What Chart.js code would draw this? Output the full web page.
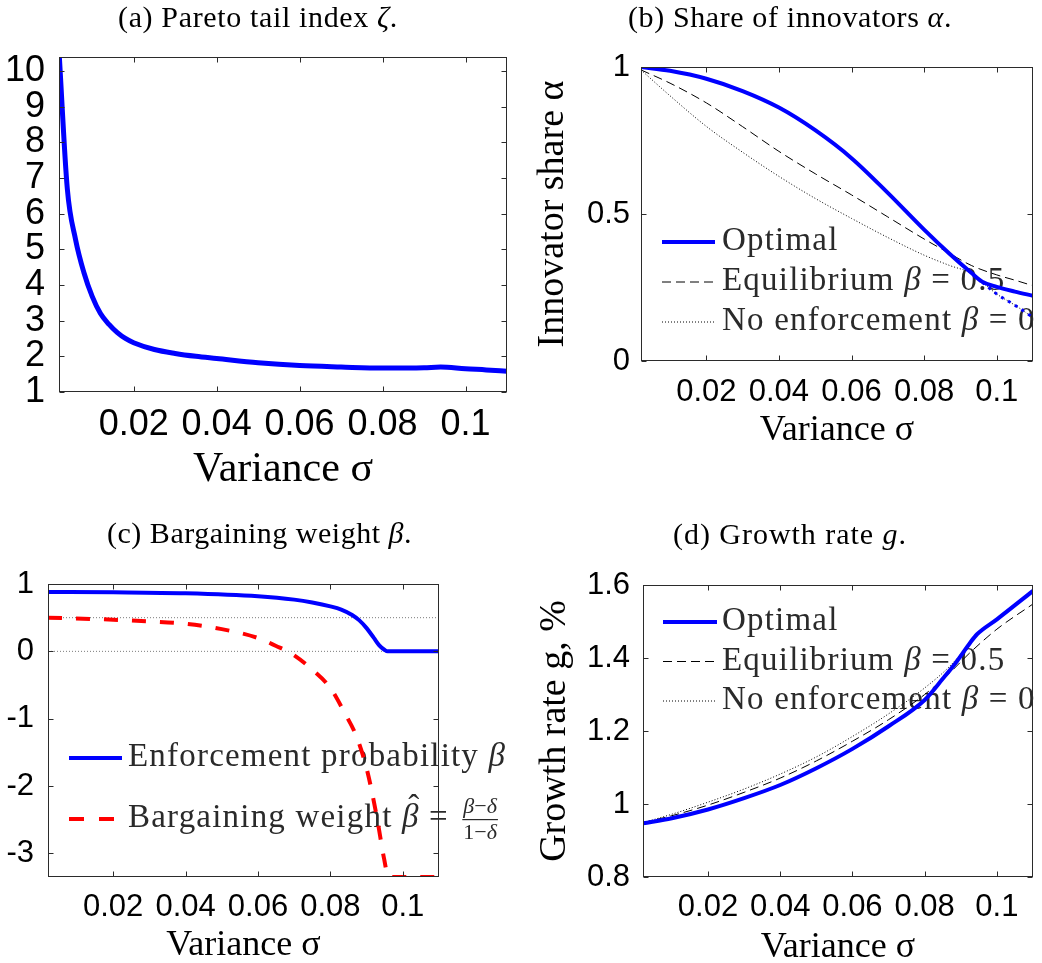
<!DOCTYPE html>
<html><head><meta charset="utf-8">
<script src="https://cdn.jsdelivr.net/npm/chart.js@4.4.0/dist/chart.umd.min.js"></script>
<style>
html,body{margin:0;padding:0;background:#fff;overflow:hidden;width:1042px;height:963px;position:relative}
.p{position:absolute}
canvas{display:block}
</style></head><body>
<div class="p" style="left:0;top:0"><canvas id="ca" width="521" height="500"></canvas></div>
<div class="p" style="left:521px;top:0"><canvas id="cb" width="521" height="480"></canvas></div>
<div class="p" style="left:0;top:480px"><canvas id="cc" width="521" height="490"></canvas></div>
<div class="p" style="left:521px;top:480px"><canvas id="cd" width="521" height="490"></canvas></div>
<script>
// ---------------- data ----------------
const xTickValues = [0.02, 0.04, 0.06, 0.08, 0.1];
const xTickLabels = ['0.02', '0.04', '0.06', '0.08', '0.1'];

// (a) Pareto tail index
const sigmaA = [0.002, 0.004, 0.006, 0.008, 0.010, 0.012, 0.014, 0.016, 0.018, 0.02, 0.025, 0.03, 0.035, 0.04, 0.05, 0.06, 0.07, 0.08, 0.09, 0.094, 0.1, 0.105, 0.11];
const zetaA  = [10.56, 6.7, 5.27, 4.35, 3.68, 3.2, 2.9, 2.67, 2.5, 2.38, 2.19, 2.08, 2.0, 1.94, 1.82, 1.74, 1.7, 1.67, 1.68, 1.7, 1.65, 1.62, 1.58];
const yTicksA  = [1, 2, 3, 4, 5, 6, 7, 8, 9, 10];
const yLabelsA = ['1', '2', '3', '4', '5', '6', '7', '8', '9', '10'];

// (b) Share of innovators
const sigmaBOpt   = [0.002, 0.01, 0.02, 0.03, 0.04, 0.05, 0.06, 0.07, 0.08, 0.087, 0.093, 0.096, 0.1, 0.105, 0.11];
const alphaOpt    = [1.0, 0.987, 0.96, 0.918, 0.862, 0.785, 0.69, 0.572, 0.447, 0.365, 0.3, 0.27, 0.252, 0.236, 0.222];
const sigmaBEq    = [0.002, 0.01, 0.02, 0.03, 0.04, 0.05, 0.06, 0.07, 0.08, 0.087, 0.093, 0.1, 0.105, 0.11];
const alphaEq     = [0.99, 0.945, 0.878, 0.797, 0.713, 0.637, 0.565, 0.49, 0.415, 0.366, 0.325, 0.293, 0.275, 0.256];
const sigmaBNoEnf = [0.002, 0.01, 0.02, 0.03, 0.04, 0.05, 0.06, 0.07, 0.08, 0.087, 0.093, 0.096, 0.1, 0.105, 0.11];
const alphaNoEnf  = [0.99, 0.902, 0.798, 0.71, 0.628, 0.553, 0.485, 0.42, 0.36, 0.325, 0.298, 0.268, 0.228, 0.19, 0.148];
const sigmaBDot   = [0.096, 0.1, 0.105, 0.11];
const alphaOptDot = [0.268, 0.228, 0.19, 0.148];
const yTicksB  = [0, 0.5, 1];
const yLabelsB = ['0', '0.5', '1'];

// (c) Bargaining weight
const sigmaCEnf  = [0.002, 0.02, 0.04, 0.06, 0.07, 0.075, 0.08, 0.083, 0.086, 0.088, 0.09, 0.092, 0.0935, 0.095, 0.0958, 0.1, 0.11];
const betaEnf    = [0.883, 0.877, 0.862, 0.818, 0.768, 0.726, 0.668, 0.62, 0.54, 0.46, 0.345, 0.2, 0.09, 0.02, 0, 0, 0];
const sigmaCBarg = [0.002, 0.02, 0.03, 0.04, 0.05, 0.06, 0.065, 0.069, 0.0745, 0.08, 0.0837, 0.0874, 0.0902, 0.0929, 0.0948, 0.0961, 0.1, 0.11];
const betaHat    = [0.5, 0.47, 0.445, 0.41, 0.33, 0.198, 0.08, -0.025, -0.248, -0.545, -0.89, -1.29, -1.78, -2.48, -3.07, -3.35, -3.35, -3.35];
const sigmaCRef  = [0.002, 0.11];
const refHalf    = [0.5, 0.5];
const refZero    = [0, 0];
const yTicksC  = [-3, -2, -1, 0, 1];
const yLabelsC = ['-3', '-2', '-1', '0', '1'];

// (d) Growth rate
const sigmaDOpt   = [0.002, 0.01, 0.02, 0.03, 0.04, 0.05, 0.06, 0.07, 0.08, 0.085, 0.089, 0.0926, 0.0945, 0.1, 0.11];
const gOpt        = [0.947, 0.961, 0.985, 1.016, 1.052, 1.098, 1.151, 1.213, 1.285, 1.343, 1.392, 1.442, 1.465, 1.506, 1.584];
const sigmaDEq    = [0.002, 0.01, 0.02, 0.03, 0.04, 0.05, 0.06, 0.07, 0.08, 0.087, 0.0926, 0.1, 0.11];
const gEq         = [0.949, 0.968, 0.997, 1.032, 1.071, 1.118, 1.172, 1.231, 1.3, 1.36, 1.415, 1.479, 1.548];
const sigmaDNoEnf = [0.002, 0.01, 0.02, 0.03, 0.04, 0.05, 0.06, 0.07, 0.08, 0.087, 0.0926, 0.0945, 0.1, 0.11];
const gNoEnf      = [0.949, 0.972, 1.005, 1.041, 1.082, 1.129, 1.185, 1.247, 1.318, 1.378, 1.442, 1.465, 1.506, 1.584];
const yTicksD  = [0.8, 1, 1.2, 1.4, 1.6];
const yLabelsD = ['0.8', '1', '1.2', '1.4', '1.6'];

// ---------------- helpers ----------------
const SANS = '"Liberation Sans", Arial, sans-serif';
const SERIF = '"Liberation Serif", "Times New Roman", serif';
const TEXT_COLOR = '#2a2a2a';

const STY = {
  blueThick: {borderColor: '#0000ff', borderWidth: 5},
  blue:      {borderColor: '#0000ff', borderWidth: 4},
  blueDot:   {borderColor: '#0000ff', borderWidth: 3, borderDash: [3, 5]},
  blackDash: {borderColor: '#000000', borderWidth: 1, borderDash: [9, 5]},
  blackDot:  {borderColor: '#000000', borderWidth: 1, borderDash: [1, 2]},
  redDash:   {borderColor: '#ff0000', borderWidth: 4, borderDash: [14, 14]},
  greyDot:   {borderColor: '#7a7a7a', borderWidth: 1, borderDash: [1, 2]}
};

function pts(xs, ys) { return xs.map((x, i) => ({x: x, y: ys[i]})); }
function ds(label, xs, ys, style, extra) {
  return Object.assign({label: label, data: pts(xs, ys), pointRadius: 0, fill: false,
    cubicInterpolationMode: 'monotone', borderCapStyle: 'butt', borderJoinStyle: 'round'}, style, extra || {});
}
function fontOf(r, size) { return (r.it ? 'italic ' : '') + size + 'px ' + SERIF; }
function nChars(s) { return [...s].length; }
function runsWidth(ctx, runs, size, sp) {
  let w = 0;
  ctx.save();
  try { ctx.letterSpacing = '0px'; } catch (e) {}
  for (const r of runs) { ctx.font = fontOf(r, size); w += ctx.measureText(r.t).width + nChars(r.t) * sp; }
  ctx.restore();
  return w;
}
function drawRuns(ctx, runs, x, y, size, sp, color) {
  ctx.save();
  ctx.fillStyle = color; ctx.textBaseline = 'alphabetic'; ctx.textAlign = 'left';
  for (const r of runs) {
    ctx.font = fontOf(r, size);
    try { ctx.letterSpacing = '0px'; } catch (e) {}
    const w = ctx.measureText(r.t).width;
    try { ctx.letterSpacing = sp + 'px'; } catch (e) {}
    ctx.fillText(r.t, x, y);
    x += w + nChars(r.t) * sp;
  }
  ctx.restore();
  return x;
}
function drawSample(ctx, x0, x1, y, st) {
  ctx.save();
  ctx.strokeStyle = st.borderColor; ctx.lineWidth = st.borderWidth;
  ctx.setLineDash(st.borderDash || []);
  ctx.beginPath(); ctx.moveTo(x0, y); ctx.lineTo(x1, y); ctx.stroke();
  ctx.restore();
}

const framePlugin = {
  id: 'frame',
  afterDatasetsDraw(chart) {
    const {ctx, chartArea: a, scales} = chart;
    const xs = scales.x, ys = scales.y;
    ctx.save();
    ctx.strokeStyle = '#2b2b2b'; ctx.lineWidth = 1; ctx.setLineDash([]);
    const L = Math.round(a.left) + 0.5, R = Math.round(a.right) - 0.5, T = Math.round(a.top) + 0.5, B = Math.round(a.bottom) - 0.5;
    ctx.strokeRect(L, T, R - L, B - T);
    const tl = 5;
    ctx.beginPath();
    xs.ticks.forEach(t => {
      const p = Math.round(xs.getPixelForValue(t.value)) + 0.5;
      ctx.moveTo(p, B); ctx.lineTo(p, B - tl);
      ctx.moveTo(p, T); ctx.lineTo(p, T + tl);
    });
    ys.ticks.forEach(t => {
      const p = Math.round(ys.getPixelForValue(t.value)) + 0.5;
      ctx.moveTo(L, p); ctx.lineTo(L + tl, p);
      ctx.moveTo(R, p); ctx.lineTo(R - tl, p);
    });
    ctx.stroke();
    ctx.restore();
  }
};

function annotPlugin(P) {
  return {
    id: 'annot',
    beforeDatasetsDraw(chart) {
      const ctx = chart.ctx;
      if (P.legend) {
        const g = P.legend;
        g.items.forEach(it => {
          drawSample(ctx, g.x0, it.x1 || g.x1, it.y, it.style);
          const xe = drawRuns(ctx, it.runs, g.tx, it.base, g.size, g.sp, TEXT_COLOR);
          if (it.after) it.after(ctx, xe, it.base, g);
        });
      }
    },
    afterDraw(chart) {
      const ctx = chart.ctx;
      const t = P.title;
      const w0 = runsWidth(ctx, t.runs, t.size, 0);
      const n = t.runs.reduce((s, r) => s + nChars(r.t), 0);
      const sp = (t.target - w0) / n;
      drawRuns(ctx, t.runs, t.cx - t.target / 2, t.base, t.size, sp, '#000');
    }
  };
}

function build(id, P) {
  const W = P.W, H = P.H, a = P.area;
  const yTitle = P.yTitle ? {display: true, text: P.yTitle, color: '#000',
      font: {family: SERIF, size: P.yTitleSize}, padding: {top: P.yTitlePad, bottom: 0}} : {display: false};
  return new Chart(document.getElementById(id), {
    type: 'line',
    data: {datasets: P.datasets},
    options: {
      responsive: false, animation: false, devicePixelRatio: 1, events: [],
      layout: {padding: {left: 0, top: a.t, right: W - a.r, bottom: 0}},
      plugins: {legend: {display: false}, tooltip: {enabled: false}, title: {display: false}},
      scales: {
        x: {
          type: 'linear', min: P.xMin, max: P.xMax,
          afterBuildTicks: s => { s.ticks = xTickValues.map(v => ({value: v})); },
          afterFit: s => { s.height = H - a.b; },
          grid: {display: false, drawTicks: false}, border: {display: false},
          ticks: {color: '#000', font: {family: SANS, size: P.tickSize}, padding: P.xPad,
            autoSkip: false, maxRotation: 0, minRotation: 0, callback: (v, i) => xTickLabels[i]},
          title: {display: true, text: 'Variance σ', color: '#000',
            font: {family: SERIF, size: P.xTitleSize}, padding: {top: 0, bottom: P.xTitlePad}}
        },
        y: {
          type: 'linear', min: P.yMin, max: P.yMax,
          afterBuildTicks: s => { s.ticks = P.yTicks.map(v => ({value: v})); },
          afterFit: s => { s.width = a.l; },
          grid: {display: false, drawTicks: false}, border: {display: false},
          ticks: {color: '#000', font: {family: SANS, size: P.tickSize}, padding: P.yPad,
            autoSkip: false, callback: (v, i) => P.yLabels[i]},
          title: yTitle
        }
      }
    },
    plugins: [framePlugin, annotPlugin(P)]
  });
}

const LEG_SIZE = 33, LEG_SP = 1.2, TITLE_SIZE = 30;
const legend3 = (x0, x1, tx, y0, step) => ({
  x0: x0, x1: x1, tx: tx, size: LEG_SIZE, sp: LEG_SP,
  items: [
    {y: y0, base: y0 + 8, style: STY.blue, runs: [{t: 'Optimal'}]},
    {y: y0 + step, base: y0 + step + 8, style: STY.blackDash, runs: [{t: 'Equilibrium '}, {t: 'β', it: true}, {t: ' = 0.5'}]},
    {y: y0 + 2 * step, base: y0 + 2 * step + 8, style: STY.blackDot, runs: [{t: 'No enforcement '}, {t: 'β', it: true}, {t: ' = 0'}]}
  ]
});

// (a)
build('ca', {
  W: 521, H: 500, area: {l: 59, r: 507, t: 57, b: 392},
  xMin: 0.002, xMax: 0.11, yMin: 1, yMax: 10.39, yTicks: yTicksA, yLabels: yLabelsA,
  tickSize: 36, xPad: 11, yPad: 14, xTitleSize: 42, xTitlePad: 5,
  datasets: [ds('Pareto tail index', sigmaA, zetaA, STY.blueThick)],
  title: {runs: [{t: '(a) Pareto tail index '}, {t: 'ζ', it: true}, {t: '.'}], cx: 258, base: 27, size: TITLE_SIZE, target: 280}
});

// (b)
build('cb', {
  W: 521, H: 480, area: {l: 120, r: 512, t: 67, b: 361},
  xMin: 0.002, xMax: 0.11, yMin: 0, yMax: 1, yTicks: yTicksB, yLabels: yLabelsB,
  tickSize: 31, xPad: 13, yPad: 11, xTitleSize: 36, xTitlePad: 28,
  yTitle: 'Innovator share α', yTitleSize: 38, yTitlePad: 9,
  datasets: [
    ds('Optimal', sigmaBOpt, alphaOpt, STY.blue),
    ds('Optimal (β = 0 branch)', sigmaBDot, alphaOptDot, STY.blueDot),
    ds('Equilibrium β = 0.5', sigmaBEq, alphaEq, STY.blackDash),
    ds('No enforcement β = 0', sigmaBNoEnf, alphaNoEnf, STY.blackDot)
  ],
  legend: legend3(141, 194, 201, 242, 40),
  title: {runs: [{t: '(b) Share of innovators '}, {t: 'α', it: true}, {t: '.'}], cx: 269, base: 27, size: TITLE_SIZE, target: 324}
});

// (c)
function drawBetaHatFraction(ctx, x, base, g) {
  const size = g.size, sp = g.sp;
  let xe = drawRuns(ctx, [{t: 'β', it: true}], x, base, size, sp, TEXT_COLOR);
  ctx.save();
  ctx.fillStyle = TEXT_COLOR; ctx.font = size + 'px ' + SERIF; ctx.textAlign = 'center';
  ctx.fillText('ˆ', (x + xe) / 2 + 3, base - 9);
  ctx.restore();
  xe = drawRuns(ctx, [{t: ' = '}], xe, base, size, sp, TEXT_COLOR);
  const fs = 22;
  const num = [{t: 'β', it: true}, {t: '−'}, {t: 'δ', it: true}];
  const den = [{t: '1'}, {t: '−'}, {t: 'δ', it: true}];
  const wn = runsWidth(ctx, num, fs, 0), wd = runsWidth(ctx, den, fs, 0);
  const w = Math.max(wn, wd) + 2;
  const cx = xe + 4 + w / 2;
  drawRuns(ctx, num, cx - wn / 2, base - 14, fs, 0, TEXT_COLOR);
  drawRuns(ctx, den, cx - wd / 2, base + 12, fs, 0, TEXT_COLOR);
  ctx.save();
  ctx.fillStyle = TEXT_COLOR; ctx.fillRect(cx - w / 2, base - 8, w, 1.2);
  ctx.restore();
}
build('cc', {
  W: 521, H: 490, area: {l: 48, r: 439, t: 104, b: 397},
  xMin: 0.002, xMax: 0.11, yMin: -3.35, yMax: 1, yTicks: yTicksC, yLabels: yLabelsC,
  tickSize: 31, xPad: 12, yPad: 14, xTitleSize: 36, xTitlePad: 3,
  datasets: [
    ds('Enforcement probability β', sigmaCEnf, betaEnf, STY.blue),
    ds('Bargaining weight β̂', sigmaCBarg, betaHat, STY.redDash),
    ds('Reference 0.5', sigmaCRef, refHalf, STY.greyDot),
    ds('Reference 0', sigmaCRef, refZero, STY.greyDot)
  ],
  legend: {
    x0: 69, x1: 122, tx: 128, size: LEG_SIZE, sp: LEG_SP,
    items: [
      {y: 278, base: 286, style: STY.blue, runs: [{t: 'Enforcement probability '}, {t: 'β', it: true}]},
      {y: 339, base: 347, x1: 114, style: Object.assign({}, STY.redDash, {borderDash: [15, 15]}),
       runs: [{t: 'Bargaining weight '}], after: drawBetaHatFraction}
    ]
  },
  title: {runs: [{t: '(c) Bargaining weight '}, {t: 'β', it: true}, {t: '.'}], cx: 259.5, base: 63, size: TITLE_SIZE, target: 305}
});

// (d)
build('cd', {
  W: 521, H: 490, area: {l: 122, r: 512, t: 105, b: 397},
  xMin: 0.002, xMax: 0.11, yMin: 0.8, yMax: 1.6, yTicks: yTicksD, yLabels: yLabelsD,
  tickSize: 31, xPad: 12, yPad: 13, xTitleSize: 36, xTitlePad: 1,
  yTitle: 'Growth rate g, %', yTitleSize: 38, yTitlePad: 11,
  datasets: [
    ds('Optimal', sigmaDOpt, gOpt, STY.blue),
    ds('Equilibrium β = 0.5', sigmaDEq, gEq, STY.blackDash),
    ds('No enforcement β = 0', sigmaDNoEnf, gNoEnf, STY.blackDot)
  ],
  legend: legend3(142, 196, 201, 142, 39.5),
  title: {runs: [{t: '(d) Growth rate '}, {t: 'g', it: true}, {t: '.'}], cx: 269, base: 64, size: TITLE_SIZE, target: 234}
});
</script>
</body></html>
